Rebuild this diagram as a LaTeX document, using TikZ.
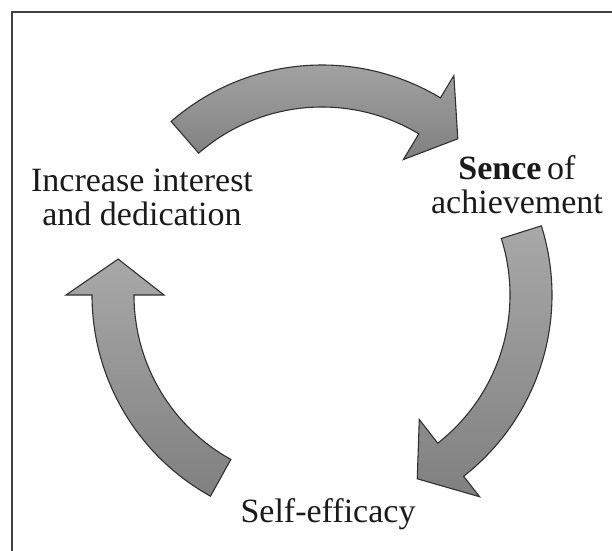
\documentclass[tikz,border=0pt]{standalone}
\usepackage{fontspec}
\setmainfont{Liberation Serif}
\usepackage{tikz}

\definecolor{arrowtop}{HTML}{A8A8A8}
\definecolor{arrowbot}{HTML}{808080}
\definecolor{arrowedge}{HTML}{303030}
\definecolor{framegray}{HTML}{404040}
\definecolor{textgray}{HTML}{1A1A1A}

\tikzset{
  blockarrow/.style={draw=arrowedge, line width=1.1pt, line join=miter,
    top color=arrowtop, bottom color=arrowbot},
  steplabel/.style={text=textgray, align=center, inner sep=0pt,
    font=\fontsize{34}{34}\selectfont}
}

% curved block arrow round the centre: #1 tail angle, #2 head base angle, #3 tip angle
\newcommand{\cyclearrow}[3]{%
  \path[blockarrow] (#1:230) arc[start angle=#1, end angle=#2, radius=230]
    -- (#2:256) -- (#3:207) -- (#2:158) -- (#2:188)
    arc[start angle=#2, end angle=#1, radius=188] -- cycle;}

\begin{document}
\begin{tikzpicture}[x=1pt, y=1pt]
    \useasboundingbox (0,0) rectangle (612,-550);
    \clip (0,0) rectangle (612,-550);
    \fill[white] (0,0) rectangle (612,-550);
    \draw[framegray, line width=2.2pt] (12,-12) rectangle (640,-580);

    \begin{scope}[shift={(322,-295)}]
        \cyclearrow{131}{59}{49}
        \cyclearrow{17.5}{-52}{-62.6}
        \cyclearrow{241}{180}{170}
    \end{scope}

    \node[steplabel] (interest) at (142,-197) {Increase interest\\and dedication};
    \node[steplabel] (achieve) at (517,-185) {\textbf{Sence}\,of\\achievement};
    \node[steplabel, anchor=base] (efficacy) at (328,-522) {Self-efficacy};
\end{tikzpicture}
\end{document}
